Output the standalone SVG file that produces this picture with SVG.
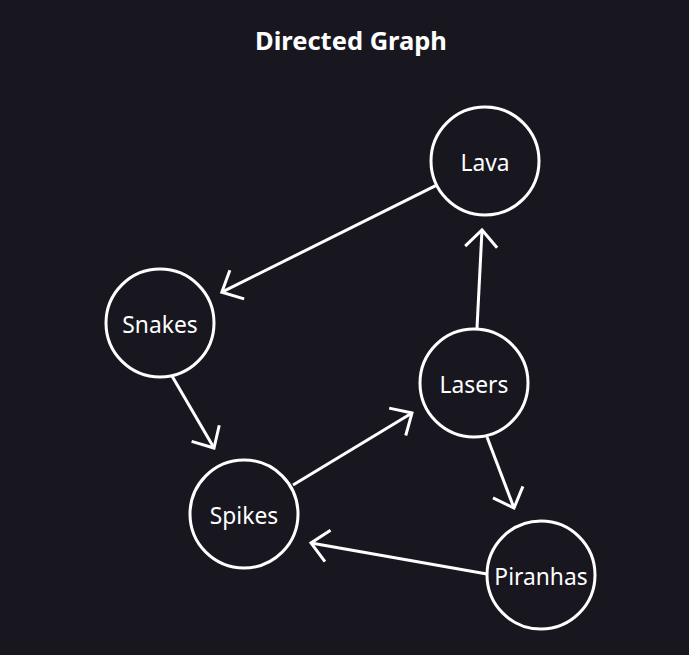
<svg xmlns="http://www.w3.org/2000/svg" width="689" height="655" viewBox="0 0 689 655">
  <style>
    .bg { fill: #18161f; }
    .title { font-family: "Noto Sans", "Open Sans", sans-serif; font-weight: bold; font-size: 25.5px; fill: #ffffff; text-anchor: middle; }
    .node circle { fill: #18161f; stroke: #ffffff; stroke-width: 3; }
    .node text { font-family: "Noto Sans", "Open Sans", sans-serif; font-size: 22.8px; fill: #ffffff; text-anchor: middle; dominant-baseline: central; }
    .edge { stroke: #ffffff; stroke-width: 3; fill: none; marker-end: url(#arrow); }
  </style>
  <defs>
    <marker id="arrow" markerUnits="userSpaceOnUse" viewBox="-20 -18 22 36" refX="0" refY="0" markerWidth="22" markerHeight="36" orient="auto" overflow="visible">
      <path d="M -17 -16 L 0 0 L -17 16" fill="none" stroke="#ffffff" stroke-width="3" stroke-linejoin="miter" stroke-linecap="butt"/>
    </marker>
  </defs>
  <rect class="bg" x="0" y="0" width="689" height="655"/>
  <text class="title" x="351" y="50">Directed Graph</text>

  <g id="connectors">
    <!-- Lava -> Snakes -->
    <line class="edge" x1="436.7" y1="185.1" x2="221.8" y2="292.2"/>
    <!-- Snakes -> Spikes -->
    <line class="edge" x1="172" y1="376" x2="214" y2="448"/>
    <!-- Spikes -> Lasers -->
    <line class="edge" x1="293" y1="485" x2="412" y2="413"/>
    <!-- Lasers -> Lava -->
    <line class="edge" x1="477" y1="328" x2="482" y2="230"/>
    <!-- Lasers -> Piranhas -->
    <line class="edge" x1="487" y1="437" x2="514" y2="508"/>
    <!-- Piranhas -> Spikes -->
    <line class="edge" x1="487" y1="574" x2="311" y2="543"/>
  </g>

  <g id="node-lava" class="node">
    <circle cx="485" cy="161" r="54"/>
    <text x="485" y="162">Lava</text>
  </g>
  <g id="node-snakes" class="node">
    <circle cx="160" cy="323" r="54"/>
    <text x="160" y="324">Snakes</text>
  </g>
  <g id="node-spikes" class="node">
    <circle cx="244" cy="514" r="54"/>
    <text x="244" y="515">Spikes</text>
  </g>
  <g id="node-lasers" class="node">
    <circle cx="474" cy="383" r="54"/>
    <text x="474" y="384">Lasers</text>
  </g>
  <g id="node-piranhas" class="node">
    <circle cx="541" cy="575" r="54"/>
    <text x="541" y="576">Piranhas</text>
  </g>
</svg>
